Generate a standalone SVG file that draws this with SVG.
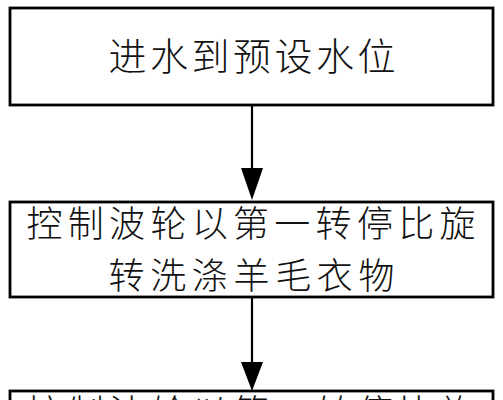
<svg xmlns="http://www.w3.org/2000/svg" width="503" height="400" viewBox="0 0 503 400">
<style>
.box{fill:#fff;stroke:#000;stroke-width:2.8}
.t{font-family:"Noto Sans CJK SC","Noto Sans CJK JP",sans-serif;font-weight:300;fill:#111}
.ln{stroke:#000;stroke-width:2.2;fill:none}
.ah{fill:#000}
</style>
<rect x="0" y="0" width="503" height="400" fill="#fff"/>
<g id="node1">
<rect class="box" x="10" y="8" width="483" height="97"/>
<text class="t" x="108.5" y="69.5" font-size="38" textLength="287" lengthAdjust="spacing">进水到预设水位</text>
</g>
<g id="node2">
<rect class="box" x="10" y="202" width="483" height="95"/>
<text class="t" x="26.5" y="236.5" font-size="36" textLength="449" lengthAdjust="spacing">控制波轮以第一转停比旋</text>
<text class="t" x="108.5" y="288.5" font-size="36" textLength="286" lengthAdjust="spacing">转洗涤羊毛衣物</text>
</g>
<g id="node3">
<rect class="box" x="10" y="391" width="483" height="95"/>
<text class="t" x="26.5" y="426" font-size="36" textLength="449" lengthAdjust="spacing">控制波轮以第二转停比旋</text>
</g>
<g id="connectors">
<line class="ln" x1="252" y1="105" x2="252" y2="172"/>
<polygon class="ah" points="241,168 263,168 252,200"/>
<line class="ln" x1="252" y1="297" x2="252" y2="366"/>
<polygon class="ah" points="241,362 263,362 252,391"/>
</g>
</svg>
